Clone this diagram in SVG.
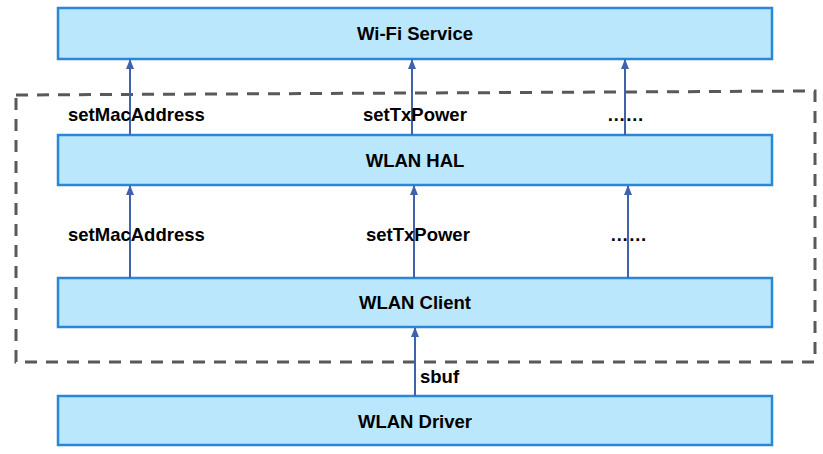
<svg xmlns="http://www.w3.org/2000/svg" width="823" height="454" viewBox="0 0 823 454">
<style>
.box{fill:#bbe7fd;stroke:#2a86d8;stroke-width:2.5}
.t{font-family:"Liberation Sans",Arial,sans-serif;font-weight:bold;font-size:18.5px;fill:#000}
.c{text-anchor:middle}
.a{stroke:#4062ad;stroke-width:2;fill:none;marker-end:url(#ah)}
</style>
<defs>
<marker id="ah" markerWidth="10" markerHeight="10" refX="9" refY="5" orient="auto" markerUnits="userSpaceOnUse">
<path d="M0,1 L10,5 L0,9 Z" fill="#4062ad"/>
</marker>
</defs>
<path d="M16,95 L815,91 L815,362 L16,362 Z" fill="none" stroke="#595959" stroke-width="3" stroke-dasharray="12 9"/>
<g id="wifi"><rect class="box" x="58" y="8" width="714" height="51"/><text class="t c" x="415" y="40">Wi-Fi Service</text></g>
<g id="hal"><rect class="box" x="58" y="135" width="714" height="50"/><text class="t c" x="415" y="167">WLAN HAL</text></g>
<g id="client"><rect class="box" x="58" y="278" width="714" height="49"/><text class="t c" x="415" y="309">WLAN Client</text></g>
<g id="driver"><rect class="box" x="58" y="396" width="714" height="49"/><text class="t c" x="415" y="428">WLAN Driver</text></g>
<g id="connectors">
<line class="a" x1="130" y1="135" x2="130" y2="60"/>
<line class="a" x1="412" y1="135" x2="412" y2="60"/>
<line class="a" x1="625" y1="135" x2="625" y2="60"/>
<line class="a" x1="130" y1="278" x2="130" y2="186"/>
<line class="a" x1="414" y1="278" x2="414" y2="186"/>
<line class="a" x1="628" y1="278" x2="628" y2="186"/>
<line class="a" x1="415" y1="396" x2="415" y2="328"/>
</g>
<g id="labels">
<text class="t" x="68" y="121">setMacAddress</text>
<text class="t" x="363" y="121">setTxPower</text>
<text class="t" x="607" y="121">……</text>
<text class="t" x="68" y="241">setMacAddress</text>
<text class="t" x="366" y="241">setTxPower</text>
<text class="t" x="610" y="241">……</text>
<text class="t" x="420" y="383">sbuf</text>
</g>
</svg>
